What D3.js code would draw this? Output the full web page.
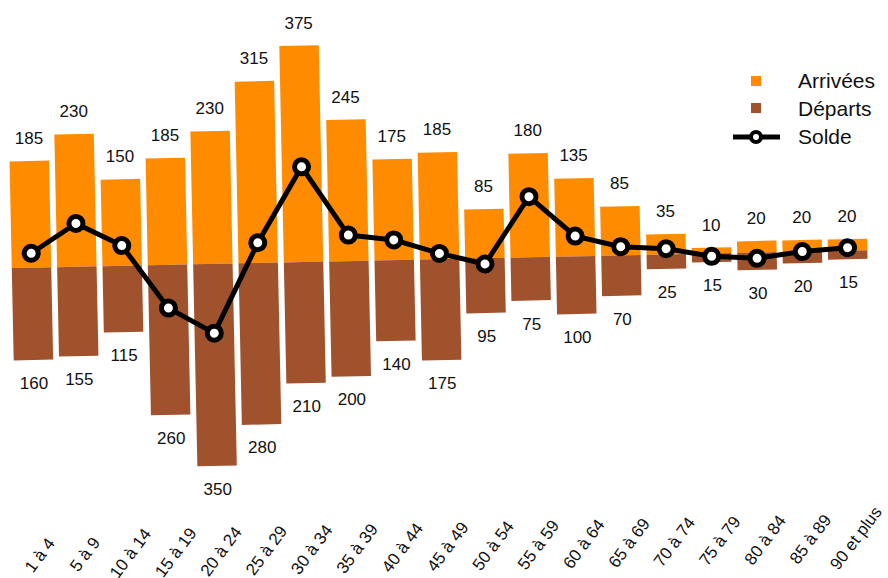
<!DOCTYPE html>
<html>
<head>
<meta charset="utf-8">
<script src="https://cdn.jsdelivr.net/npm/d3@7"></script>
<style>
  body { margin: 0; background: #fff; }
  text { font-family: Arial, "Liberation Sans", sans-serif; fill: #111; }
</style>
</head>
<body>
<div id="chart"></div>
<script>
// age groups and flows
const categories = ['1 à 4', '5 à 9', '10 à 14', '15 à 19', '20 à 24', '25 à 29', '30 à 34', '35 à 39',
  '40 à 44', '45 à 49', '50 à 54', '55 à 59', '60 à 64', '65 à 69', '70 à 74', '75 à 79',
  '80 à 84', '85 à 89', '90 et plus'];
const arrivees = [185, 230, 150, 185, 230, 315, 375, 245, 175, 185, 85, 180, 135, 85, 35, 10, 20, 20, 20];
const departs = [160, 155, 115, 260, 350, 280, 210, 200, 140, 175, 95, 75, 100, 70, 25, 15, 30, 20, 15];
const solde = arrivees.map((a, i) => a - departs[i]);

const width = 888, height = 578;
const tilt = -1.2; // the source picture is slightly rotated

const svg = d3.select('#chart').append('svg')
  .attr('width', width).attr('height', height);

const g = svg.append('g')
  .attr('transform', `translate(31.5,267.7) rotate(${tilt})`);

const step = 45.35;
const x = d3.scaleBand()
  .domain(categories)
  .range([-step / 2, -step / 2 + step * categories.length])
  .paddingInner(0.13)
  .paddingOuter(0.065);
const cx = d => x(d) + x.bandwidth() / 2;

const y = d3.scaleLinear().domain([0, 375]).range([0, -216.4]);

// arrivals (up)
g.selectAll('rect.arr').data(categories).enter().append('rect')
  .attr('class', 'arr')
  .attr('x', d => x(d))
  .attr('width', x.bandwidth())
  .attr('y', (d, i) => y(arrivees[i]))
  .attr('height', (d, i) => y(0) - y(arrivees[i]))
  .attr('fill', '#FF8C00');

// departures (down)
g.selectAll('rect.dep').data(categories).enter().append('rect')
  .attr('class', 'dep')
  .attr('x', d => x(d))
  .attr('width', x.bandwidth())
  .attr('y', y(0))
  .attr('height', (d, i) => y(-departs[i]) - y(0))
  .attr('fill', '#A0522D');

// value labels, kept horizontal on screen
g.selectAll('text.la').data(categories).enter().append('text')
  .attr('class', 'la')
  .attr('x', d => cx(d))
  .attr('y', (d, i) => y(arrivees[i]) - 17)
  .attr('transform', (d, i) => `rotate(${-tilt},${cx(d)},${y(arrivees[i]) - 17})`)
  .attr('text-anchor', 'middle')
  .attr('font-size', 17)
  .text((d, i) => arrivees[i]);

g.selectAll('text.ld').data(categories).enter().append('text')
  .attr('class', 'ld')
  .attr('x', d => cx(d))
  .attr('y', (d, i) => y(-departs[i]) + 29)
  .attr('transform', (d, i) => `rotate(${-tilt},${cx(d)},${y(-departs[i]) + 29})`)
  .attr('text-anchor', 'middle')
  .attr('font-size', 17)
  .text((d, i) => departs[i]);

// solde line
const line = d3.line()
  .x(d => cx(d.cat))
  .y(d => y(d.v));
const pts = categories.map((c, i) => ({cat: c, v: solde[i]}));

g.append('path')
  .datum(pts)
  .attr('d', line)
  .attr('fill', 'none')
  .attr('stroke', '#000')
  .attr('stroke-width', 5)
  .attr('stroke-linejoin', 'round');

g.selectAll('circle.pt').data(pts).enter().append('circle')
  .attr('class', 'pt')
  .attr('cx', d => cx(d.cat))
  .attr('cy', d => y(d.v))
  .attr('r', 7)
  .attr('fill', '#fff')
  .attr('stroke', '#000')
  .attr('stroke-width', 5);

// category labels
g.selectAll('text.cat').data(categories).enter().append('text')
  .attr('class', 'cat')
  .attr('transform', d => `translate(${cx(d) + 2},287.5) rotate(-52)`)
  .attr('text-anchor', 'middle')
  .attr('dy', '0.35em')
  .attr('font-size', 17)
  .text(d => d);

// legend
const legend = svg.append('g').attr('transform', 'translate(756,0)');
legend.append('rect').attr('x', -5).attr('y', 76).attr('width', 10).attr('height', 10).attr('fill', '#FF8C00');
legend.append('rect').attr('x', -5).attr('y', 103).attr('width', 10).attr('height', 10).attr('fill', '#A0522D');
legend.append('line').attr('x1', -23).attr('x2', 24).attr('y1', 137).attr('y2', 137)
  .attr('stroke', '#000').attr('stroke-width', 5);
legend.append('circle').attr('cx', 0).attr('cy', 137).attr('r', 5)
  .attr('fill', '#fff').attr('stroke', '#000').attr('stroke-width', 4);
[['Arrivées', 88], ['Départs', 116], ['Solde', 144]].forEach(([t, ty]) => {
  legend.append('text').attr('x', 42).attr('y', ty).attr('font-size', 21).text(t);
});
</script>
</body>
</html>
